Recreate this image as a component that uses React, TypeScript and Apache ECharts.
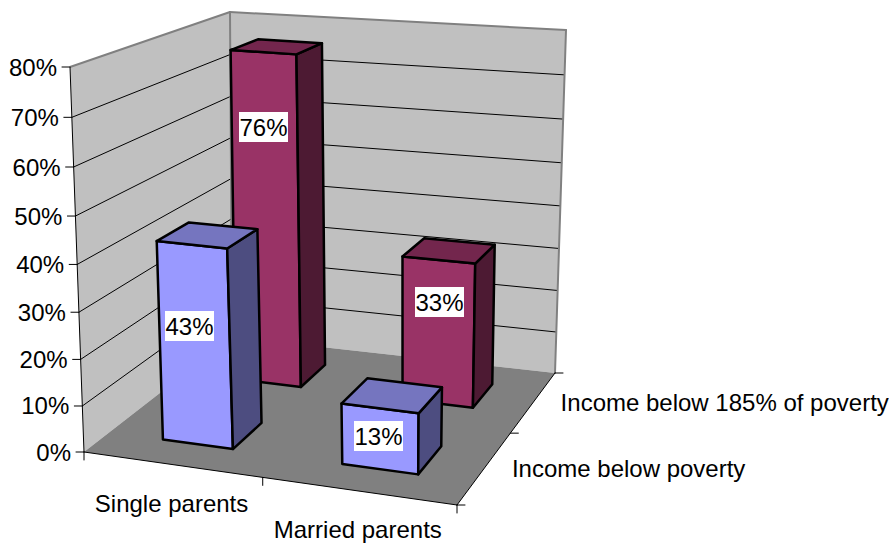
import React, { useEffect, useRef } from "react";
import * as echarts from "echarts";

const categories = ["Single parents", "Married parents"];
const depthNames = ["Income below poverty", "Income below 185% of poverty"];
const belowPoverty = [0.43, 0.13];
const below185 = [0.76, 0.33];
const valueTicks = [0, 0.1, 0.2, 0.3, 0.4, 0.5, 0.6, 0.7, 0.8];
const tickLabels = ["0%", "10%", "20%", "30%", "40%", "50%", "60%", "70%", "80%"];
const valueLabels = [["43%", "13%"], ["76%", "33%"]];

// Layout: the corners of the chart's box as they appear in the picture
const W = 889;
const H = 543;
const FLOOR = [[84, 452], [457, 505], [555, 373], [232, 337]];
const ROOF = [[70, 67], [466, 100], [566, 30], [230, 12]];
const PERSPECTIVE = -0.05;
const BAR_SHIFT = 0.007;
const LABEL_CENTRES = [[[189.5, 326], [378.5, 436]], [[263.5, 127], [439.5, 302]]];
const FONT = '24px "Liberation Sans", Arial, sans-serif';
const BLUE = { front: "#9999FF", top: "#7575BF", side: "#4D4D80" };
const MAROON = { front: "#993366", top: "#73264D", side: "#4D1A33" };

function homography(q: number[][]) {
  const [[x0, y0], [x1, y1], [x2, y2], [x3, y3]] = q;
  const dx1 = x1 - x2, dx2 = x3 - x2, sx = x0 - x1 + x2 - x3;
  const dy1 = y1 - y2, dy2 = y3 - y2, sy = y0 - y1 + y2 - y3;
  const den = dx1 * dy2 - dx2 * dy1;
  const g = (sx * dy2 - dx2 * sy) / den;
  const h = (dx1 * sy - sx * dy1) / den;
  const a = x1 - x0 + g * x1, b = x3 - x0 + h * x3;
  const d = y1 - y0 + g * y1, e = y3 - y0 + h * y3;
  return (u: number, v: number) => {
    const w = g * u + h * v + 1;
    return [(a * u + b * v + x0) / w, (d * u + e * v + y0) / w];
  };
}
const floorAt = homography(FLOOR);
const roofAt = homography(ROOF);

// u: along the categories, v: into the depth, t: share of the value axis
function project(u: number, v: number, t: number) {
  const b = floorAt(u, v);
  const r = roofAt(u, v);
  const f = (t * (1 + PERSPECTIVE)) / (1 + PERSPECTIVE * t);
  return [b[0] + (r[0] - b[0]) * f, b[1] + (r[1] - b[1]) * f];
}
const tOf = (api: any, value: number) => 1 - api.coord([0, value])[1] / H;
const uOf = (api: any, cat: number) => api.coord([cat, 0])[0] / W;

const poly = (points: number[][], fill: string, stroke?: string, lineWidth = 0) => ({
  type: "polygon",
  shape: { points },
  style: { fill, stroke: stroke ?? "none", lineWidth, lineJoin: "round" },
});
const line = (a: number[], b: number[], stroke: string, lineWidth: number) => ({
  type: "line",
  shape: { x1: a[0], y1: a[1], x2: b[0], y2: b[1] },
  style: { stroke, lineWidth, lineCap: "round" },
});
const text = (str: string, x: number, y: number, align: string) => ({
  type: "text",
  style: { text: str, x, y, align, verticalAlign: "middle", font: FONT, fill: "#000000" },
});

function renderFrame(_: any, api: any) {
  const top = 1;
  const children: any[] = [];
  children.push(poly([project(0, 0, 0), project(0, 1, 0), project(0, 1, top), project(0, 0, top)], "#C0C0C0"));
  children.push(poly([project(0, 1, 0), project(1, 1, 0), project(1, 1, top), project(0, 1, top)], "#C0C0C0"));
  children.push(poly([project(0, 0, 0), project(1, 0, 0), project(1, 1, 0), project(0, 1, 0)], "#808080"));
  valueTicks.forEach((tv, i) => {
    const t = tOf(api, tv);
    if (i > 0 && i < valueTicks.length - 1) {
      children.push(line(project(0, 0, t), project(0, 1, t), "#000000", 1));
      children.push(line(project(0, 1, t), project(1, 1, t), "#000000", 1));
    }
    const p = project(0, 0, t);
    children.push(line([p[0] - 8, p[1]], p, "#000000", 1));
    children.push(text(tickLabels[i], p[0] - 13, p[1], "right"));
  });
  // wall edges
  children.push(line(project(0, 0, top), project(0, 1, top), "#808080", 2));
  children.push(line(project(0, 1, top), project(1, 1, top), "#808080", 2));
  children.push(line(project(0, 1, 0), project(0, 1, top), "#808080", 2));
  children.push(line(project(1, 1, 0), project(1, 1, top), "#808080", 2));
  // axis lines
  children.push(line(project(0, 0, 0), project(0, 0, top), "#000000", 1));
  children.push(line(project(0, 0, 0), project(1, 0, 0), "#000000", 1));
  children.push(line(project(1, 0, 0), project(1, 1, 0), "#000000", 1));
  [0, 0.5, 1].forEach((u) => {
    const p = project(u, 0, 0);
    children.push(line(p, [p[0], p[1] + 8], "#000000", 1));
  });
  [0, 0.5, 1].forEach((v) => {
    const p = project(1, v, 0);
    children.push(line(p, [p[0] + 8, p[1]], "#000000", 1));
  });
  categories.forEach((c, i) => {
    const p = project(uOf(api, i), 0, 0);
    children.push(text(c, p[0], p[1] + 39, "center"));
  });
  depthNames.forEach((d, i) => {
    const p = project(1, (i + 0.5) / depthNames.length, 0);
    children.push(text(d, p[0] + 27, p[1] + 1, "left"));
  });
  return { type: "group", children };
}

function barRenderer(depth: number, colors: typeof BLUE) {
  return (params: any, api: any) => {
    const cat = api.value(0);
    const val = api.value(1);
    const uc = uOf(api, cat) + BAR_SHIFT;
    const hu = (api.size([1, 0])[0] / W) * 0.2;
    const dc = (depth + 0.5) / depthNames.length;
    const hv = 0.1;
    const t = tOf(api, val);
    const [u0, u1, v0, v1] = [uc - hu, uc + hu, dc - hv, dc + hv];
    const centre = LABEL_CENTRES[depth][cat];
    return {
      type: "group",
      children: [
        poly([project(u0, v0, 0), project(u1, v0, 0), project(u1, v0, t), project(u0, v0, t)], colors.front, "#000000", 2.5),
        poly([project(u1, v0, 0), project(u1, v1, 0), project(u1, v1, t), project(u1, v0, t)], colors.side, "#000000", 2.5),
        poly([project(u0, v0, t), project(u1, v0, t), project(u1, v1, t), project(u0, v1, t)], colors.top, "#000000", 2.5),
        {
          type: "rect",
          shape: { x: centre[0] - 24.5, y: centre[1] - 15, width: 49, height: 30 },
          style: { fill: "#FFFFFF" },
        },
        text(valueLabels[depth][cat], centre[0], centre[1], "center"),
      ],
    };
  };
}

export default function App() {
  const ref = useRef<HTMLDivElement>(null);
  useEffect(() => {
    document.body.style.margin = "0";
    const chart = echarts.init(ref.current!, null, { renderer: "svg" });
    chart.setOption({
      animation: false,
      backgroundColor: "#FFFFFF",
      tooltip: { show: false },
      grid: { left: 0, top: 0, right: 0, bottom: 0 },
      xAxis: { type: "category", data: categories, show: false },
      yAxis: { type: "value", min: 0, max: 0.8, interval: 0.1, show: false },
      series: [
        {
          type: "custom",
          name: "frame",
          silent: true,
          renderItem: renderFrame,
          data: [[0, 0]],
          encode: { x: 0, y: 1 },
          z: 1,
        },
        {
          type: "custom",
          name: depthNames[1],
          silent: true,
          renderItem: barRenderer(1, MAROON),
          data: below185.map((v, i) => [i, v]),
          encode: { x: 0, y: 1 },
          z: 2,
        },
        {
          type: "custom",
          name: depthNames[0],
          silent: true,
          renderItem: barRenderer(0, BLUE),
          data: belowPoverty.map((v, i) => [i, v]),
          encode: { x: 0, y: 1 },
          z: 3,
        },
      ],
    });
    return () => chart.dispose();
  }, []);
  return <div ref={ref} style={{ width: W, height: H, position: "absolute", left: 0, top: 0 }} />;
}
